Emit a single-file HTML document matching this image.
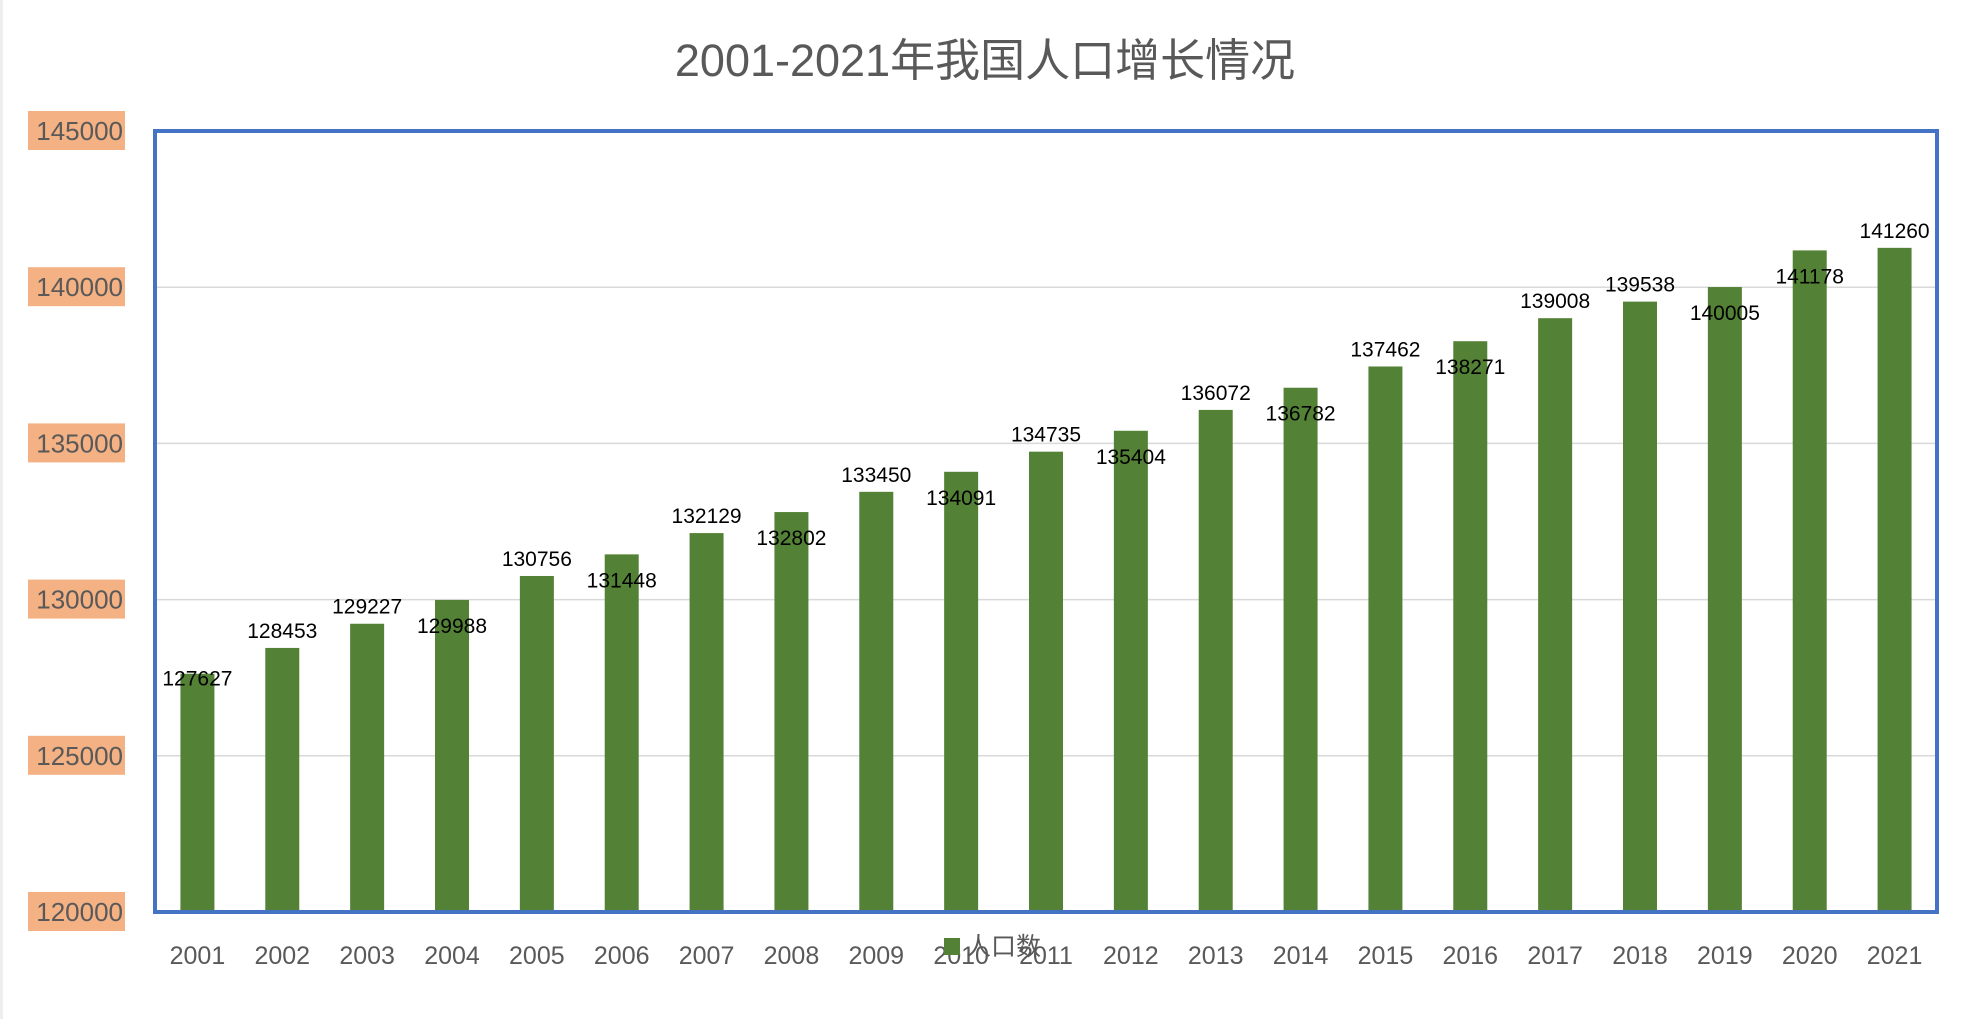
<!DOCTYPE html>
<html><head><meta charset="utf-8">
<style>
body{margin:0;background:#fff;}
svg{display:block;font-family:"Liberation Sans","Noto Sans CJK SC",sans-serif;}
</style></head>
<body>
<svg id="chart" width="1968" height="1019" viewBox="0 0 1968 1019">
<rect x="0" y="0" width="1968" height="1019" fill="#fff"/>
<line x1="1.5" y1="0" x2="1.5" y2="1019" stroke="#eee" stroke-width="3"/>
<text x="985" y="76" text-anchor="middle" font-size="45" fill="#595959">2001-2021年我国人口增长情况</text>
<g id="grid"></g>
<g id="bars"></g>
<rect x="155" y="131" width="1782" height="781" fill="none" stroke="#4472c4" stroke-width="4"/>
<g id="ylabels"></g>
<g id="xlabels"></g>
<g id="dlabels"></g>
<rect x="944" y="938" width="16" height="17" fill="#538135"/>
<text x="966" y="955" font-size="25" fill="#595959">人口数</text>
</svg>
<script>
const categories=["2001","2002","2003","2004","2005","2006","2007","2008","2009","2010","2011","2012","2013","2014","2015","2016","2017","2018","2019","2020","2021"];
const population=[127627,128453,129227,129988,130756,131448,132129,132802,133450,134091,134735,135404,136072,136782,137462,138271,139008,139538,140005,141178,141260];
const yTicks=[120000,125000,130000,135000,140000,145000];
const labelPlacement=["c","a","a","b","a","b","a","b","a","b","a","b","a","b","a","b","a","a","b","b","a"];
const NS="http://www.w3.org/2000/svg";
const plotL=155,plotR=1937,plotT=131,plotB=912,yMin=120000,yMax=145000;
function y(v){return plotB-(v-yMin)/(yMax-yMin)*(plotB-plotT);}
const band=(plotR-plotL)/categories.length;
function xc(i){return plotL+band*(i+0.5);}
function mk(tag,attrs,parent){const e=document.createElementNS(NS,tag);for(const k in attrs)e.setAttribute(k,attrs[k]);parent.appendChild(e);return e;}
const grid=document.getElementById('grid'),yl=document.getElementById('ylabels');
yTicks.forEach(t=>{
  const g=mk('line',{x1:plotL,x2:plotR,y1:y(t),y2:y(t),stroke:'#d9d9d9','stroke-width':1.5},grid);
  
  
  const r=mk('rect',{x:28,y:y(t)-20,width:97,height:39,fill:'#f4b183'},yl);
  
  
  const tx=mk('text',{x:123,y:y(t)+9,'text-anchor':'end','font-size':26,fill:'#595959'},yl);
  tx.textContent=t;
  
  
});
const bars=document.getElementById('bars'),xl=document.getElementById('xlabels'),dl=document.getElementById('dlabels');
const bw=34;
categories.forEach((c,i)=>{
  const v=population[i];
  const b=mk('rect',{x:xc(i)-bw/2,y:y(v),width:bw,height:plotB-y(v),fill:'#538135'},bars);
  
  
  const xt=mk('text',{x:xc(i),y:964,'text-anchor':'middle','font-size':25,fill:'#595959'},xl);
  xt.textContent=c;
  
  
  const p=labelPlacement[i];
  const cy=p==='a'?y(v)-17:(p==='b'?y(v)+26:y(v)+5);
  const dt=mk('text',{x:xc(i),y:cy+7,'text-anchor':'middle','font-size':21,fill:'#000'},dl);
  dt.textContent=v;
  
  
});
</script>
</body></html>
